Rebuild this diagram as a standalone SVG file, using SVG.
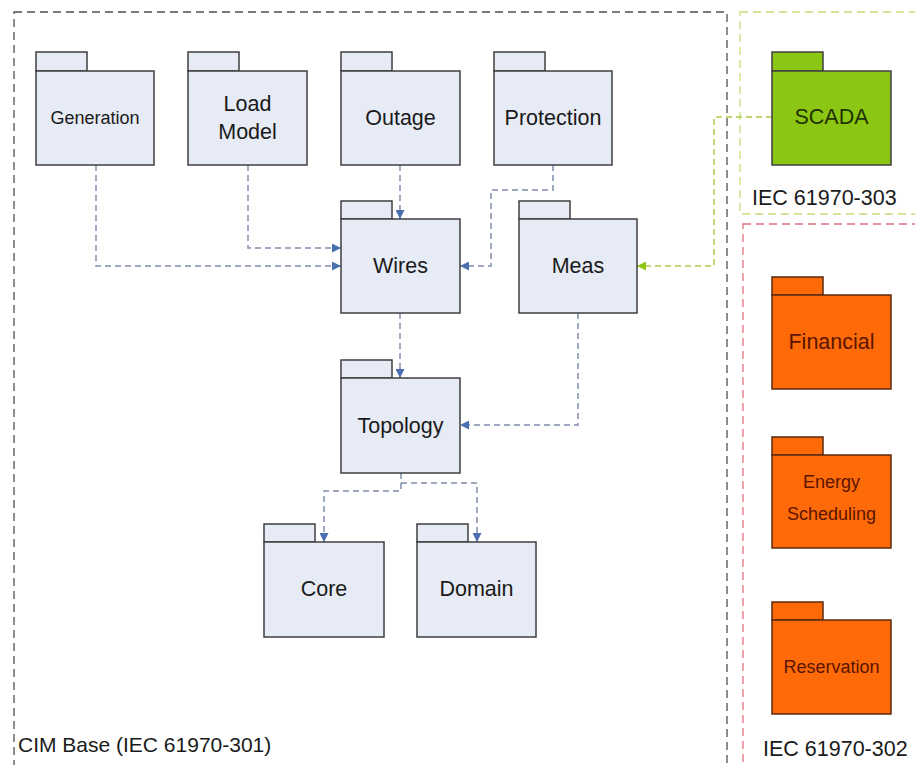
<svg xmlns="http://www.w3.org/2000/svg" width="915" height="765" viewBox="0 0 915 765">
  <style>
    text { font-family: "Liberation Sans", Arial, sans-serif; text-anchor: middle; }
    .pkg { fill: #e6ebf5; stroke: #3f3f3f; stroke-width: 1.5; }
    .pkg-green { fill: #8cc614; stroke: #3f3f3f; stroke-width: 1.5; }
    .pkg-orange { fill: #ff6a08; stroke: #5a2a10; stroke-width: 1.5; }
    .lbl { font-size: 21.5px; fill: #1a1a1a; }
    .lbl-s { font-size: 18px; fill: #1a1a1a; }
    .lbl-g { font-size: 21.5px; fill: #1e3300; }
    .lbl-o { font-size: 21.5px; fill: #5a1500; }
    .lbl-os { font-size: 18px; fill: #5a1500; }
    .frame-cim { fill: none; stroke: #505050; stroke-width: 1.3; stroke-dasharray: 8 5; }
    .frame-303 { fill: none; stroke: #c7dc7a; stroke-width: 1.3; stroke-dasharray: 8 5; }
    .frame-302 { fill: none; stroke: #e0707e; stroke-width: 1.3; stroke-dasharray: 8 5; }
    .caption { font-size: 21px; fill: #1a1a1a; text-anchor: start; }
    .dep { fill: none; stroke: #7f8fab; stroke-width: 1.5; stroke-dasharray: 6 4; }
    .dep-g { fill: none; stroke: #a9cc4a; stroke-width: 1.5; stroke-dasharray: 6 4; }
  </style>
  <defs>
    <marker id="arrow" viewBox="0 0 10 10" refX="10" refY="5" markerWidth="11" markerHeight="9" markerUnits="userSpaceOnUse" orient="auto">
      <path d="M0,0 L10,5 L0,10 Z" fill="#4a6faf"/>
    </marker>
    <marker id="arrow-g" viewBox="0 0 10 10" refX="10" refY="5" markerWidth="11" markerHeight="9" markerUnits="userSpaceOnUse" orient="auto">
      <path d="M0,0 L10,5 L0,10 Z" fill="#8cc614"/>
    </marker>
  </defs>

  <rect width="915" height="765" fill="#ffffff"/>

  <!-- standard frames -->
  <g id="frame-cim-base">
    <rect class="frame-cim" x="14" y="12" width="713" height="770"/>
    <text class="caption" x="18" y="752">CIM Base (IEC 61970-301)</text>
  </g>
  <g id="frame-61970-303">
    <rect class="frame-303" x="740" y="12" width="190" height="202"/>
    <text class="caption" x="752" y="205" style="font-size:21.5px">IEC 61970-303</text>
  </g>
  <g id="frame-61970-302">
    <rect class="frame-302" x="743" y="224" width="190" height="560"/>
    <text class="caption" x="763" y="756" style="font-size:21.5px">IEC 61970-302</text>
  </g>

  <!-- dependencies -->
  <g id="connectors">
    <polyline class="dep" points="96,165 96,266 341,266" marker-end="url(#arrow)"/>
    <polyline class="dep" points="248,165 248,248 341,248" marker-end="url(#arrow)"/>
    <polyline class="dep" points="400,165 400,219" marker-end="url(#arrow)"/>
    <polyline class="dep" points="553,165 553,190 491,190 491,266 460,266" marker-end="url(#arrow)"/>
    <polyline class="dep-g" points="772,117 714,117 714,266 637,266" marker-end="url(#arrow-g)"/>
    <polyline class="dep" points="400,313 400,378" marker-end="url(#arrow)"/>
    <polyline class="dep" points="578,313 578,425 460,425" marker-end="url(#arrow)"/>
    <polyline class="dep" points="401,473 401,491 324,491 324,542" marker-end="url(#arrow)"/>
    <polyline class="dep" points="401,483 477,483 477,542" marker-end="url(#arrow)"/>
  </g>

  <!-- CIM Base packages -->
  <g id="generation">
    <rect class="pkg" x="36" y="52" width="51" height="19"/>
    <rect class="pkg" x="36" y="71" width="118" height="94"/>
    <text class="lbl-s" x="95" y="124">Generation</text>
  </g>
  <g id="load-model">
    <rect class="pkg" x="188" y="52" width="51" height="19"/>
    <rect class="pkg" x="188" y="71" width="119" height="94"/>
    <text class="lbl" x="247.5" y="111">Load</text>
    <text class="lbl" x="247.5" y="139">Model</text>
  </g>
  <g id="outage">
    <rect class="pkg" x="341" y="52" width="51" height="19"/>
    <rect class="pkg" x="341" y="71" width="119" height="94"/>
    <text class="lbl" x="400.5" y="125">Outage</text>
  </g>
  <g id="protection">
    <rect class="pkg" x="494" y="52" width="51" height="19"/>
    <rect class="pkg" x="494" y="71" width="118" height="94"/>
    <text class="lbl" x="553" y="125">Protection</text>
  </g>
  <g id="wires">
    <rect class="pkg" x="341" y="201" width="51" height="18"/>
    <rect class="pkg" x="341" y="219" width="119" height="94"/>
    <text class="lbl" x="400.5" y="273">Wires</text>
  </g>
  <g id="meas">
    <rect class="pkg" x="519" y="201" width="51" height="18"/>
    <rect class="pkg" x="519" y="219" width="118" height="94"/>
    <text class="lbl" x="578" y="273">Meas</text>
  </g>
  <g id="topology">
    <rect class="pkg" x="341" y="360" width="51" height="18"/>
    <rect class="pkg" x="341" y="378" width="119" height="95"/>
    <text class="lbl" x="400.5" y="433">Topology</text>
  </g>
  <g id="core">
    <rect class="pkg" x="264" y="524" width="51" height="18"/>
    <rect class="pkg" x="264" y="542" width="120" height="95"/>
    <text class="lbl" x="324" y="596">Core</text>
  </g>
  <g id="domain">
    <rect class="pkg" x="417" y="524" width="51" height="18"/>
    <rect class="pkg" x="417" y="542" width="119" height="95"/>
    <text class="lbl" x="476.5" y="596">Domain</text>
  </g>

  <!-- IEC 61970-303 package -->
  <g id="scada">
    <rect class="pkg-green" x="772" y="52" width="51" height="19"/>
    <rect class="pkg-green" x="772" y="71" width="119" height="94"/>
    <text class="lbl-g" x="831.5" y="124">SCADA</text>
  </g>

  <!-- IEC 61970-302 packages -->
  <g id="financial">
    <rect class="pkg-orange" x="772" y="277" width="51" height="18"/>
    <rect class="pkg-orange" x="772" y="295" width="119" height="94"/>
    <text class="lbl-o" x="831.5" y="349">Financial</text>
  </g>
  <g id="energy-scheduling">
    <rect class="pkg-orange" x="772" y="437" width="51" height="18"/>
    <rect class="pkg-orange" x="772" y="455" width="119" height="93"/>
    <text class="lbl-os" x="831.5" y="488">Energy</text>
    <text class="lbl-os" x="831.5" y="520">Scheduling</text>
  </g>
  <g id="reservation">
    <rect class="pkg-orange" x="772" y="602" width="51" height="18"/>
    <rect class="pkg-orange" x="772" y="620" width="119" height="94"/>
    <text class="lbl-os" x="831.5" y="673">Reservation</text>
  </g>
</svg>
